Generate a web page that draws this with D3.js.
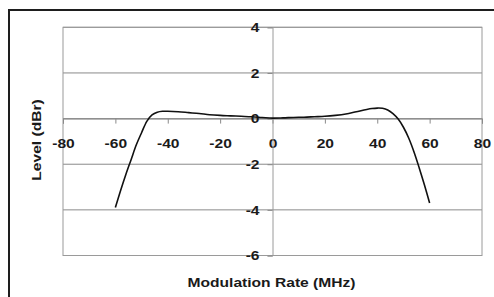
<!DOCTYPE html>
<html>
<head>
<meta charset="utf-8">
<script src="https://cdn.jsdelivr.net/npm/d3@7"></script>
<style>
  body { margin: 0; background: #fff; }
  text { font-family: "Liberation Sans", Arial, sans-serif; font-weight: bold; fill: #1a1a1a; }
</style>
</head>
<body>
<svg id="chart" width="494" height="297"></svg>
<script>
// modulation rate (MHz) and level (dBr)
const rates = [-60, -58, -56, -54, -52, -50, -48, -46, -44, -42, -40, -36, -32, -28, -24, -20, -16, -12, -8, -4,
               0, 4, 8, 12, 16, 20, 24, 28, 32, 36, 38, 40, 42, 44, 46, 48, 50, 52, 54, 56, 58, 60];
const levels = [-3.9, -3.15, -2.45, -1.8, -1.15, -0.62, -0.12, 0.16, 0.28, 0.32, 0.32, 0.30, 0.26, 0.22, 0.17, 0.14, 0.12, 0.10, 0.08, 0.05,
                0.02, 0.03, 0.05, 0.06, 0.08, 0.10, 0.14, 0.20, 0.30, 0.40, 0.44, 0.46, 0.45, 0.38, 0.22, -0.02, -0.38, -0.85, -1.45, -2.15, -2.9, -3.7];
const xTicks = [-80, -60, -40, -20, 0, 20, 40, 60, 80];
const yTicks = [4, 2, 0, -2, -4, -6];

const svg = d3.select("#chart");
const stretch = 1.2;
// plain hyphen for negatives, like the original
const fmt = d => String(d);

const x = d3.scaleLinear().domain([-80, 80]).range([63, 482]);
const y = d3.scaleLinear().domain([-6, 4]).range([255.5, 27.3]);

// outer frame (cut off at right and bottom)
svg.append("rect")
    .attr("x", 9).attr("y", 10)
    .attr("width", 520).attr("height", 320)
    .attr("fill", "none")
    .attr("stroke", "#1e1e1e")
    .attr("stroke-width", 2);

// horizontal gridlines
svg.append("g").selectAll("line")
    .data(yTicks)
    .enter().append("line")
    .attr("x1", x(-80)).attr("x2", x(80))
    .attr("y1", d => y(d)).attr("y2", d => y(d))
    .attr("stroke", "#8a8a8a")
    .attr("stroke-width", 1);

// plot area border
svg.append("rect")
    .attr("x", x(-80)).attr("y", y(4))
    .attr("width", x(80) - x(-80)).attr("height", y(-6) - y(4))
    .attr("fill", "none")
    .attr("stroke", "#9a9a9a")
    .attr("stroke-width", 1);

// x axis through y = 0
const xAxis = svg.append("g")
    .attr("transform", `translate(0,${y(0)})`)
    .call(d3.axisBottom(x).tickValues(xTicks).tickSize(5).tickPadding(15).tickFormat(fmt));
xAxis.select(".domain").attr("stroke", "#8a8a8a");
xAxis.selectAll(".tick line").attr("stroke", "#8a8a8a");
xAxis.selectAll(".tick text")
    .attr("fill", "#1a1a1a")
    .style("font-size", "13px")
    .attr("transform", `scale(${stretch},1)`);

// y axis through x = 0
const yAxis = svg.append("g")
    .attr("transform", `translate(${x(0)},0)`)
    .call(d3.axisLeft(y).tickValues(yTicks).tickSize(5).tickPadding(8).tickFormat(fmt));
yAxis.select(".domain").attr("stroke", "#9a9a9a");
yAxis.selectAll(".tick line").attr("stroke", "#8a8a8a");
yAxis.selectAll(".tick text")
    .attr("fill", "#1a1a1a")
    .style("font-size", "13px")
    .attr("x", -13 / stretch)
    .attr("transform", `scale(${stretch},1)`);

// response curve
const line = d3.line()
    .x((d, i) => x(rates[i]))
    .y(d => y(d))
    .curve(d3.curveCatmullRom.alpha(0.5));

svg.append("path")
    .datum(levels)
    .attr("d", line)
    .attr("fill", "none")
    .attr("stroke", "#111")
    .attr("stroke-width", 1.6);

// axis titles
svg.append("text")
    .attr("transform", `translate(${x(0) - 1},287) scale(${stretch},1)`)
    .attr("text-anchor", "middle")
    .style("font-size", "13px")
    .text("Modulation Rate (MHz)");

svg.append("text")
    .attr("transform", `translate(41,140) rotate(-90) scale(${stretch},1)`)
    .attr("text-anchor", "middle")
    .style("font-size", "13px")
    .text("Level (dBr)");
</script>
</body>
</html>
